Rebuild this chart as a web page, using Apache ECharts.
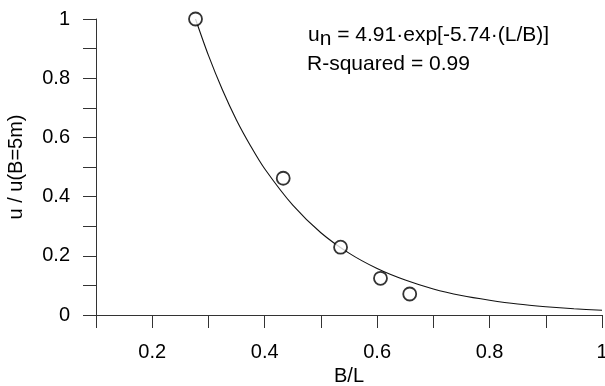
<!DOCTYPE html>
<html>
<head>
<meta charset="utf-8">
<script src="https://cdn.jsdelivr.net/npm/echarts@6/dist/echarts.min.js"></script>
<style>
  html, body { margin: 0; padding: 0; background: #fff; }
  #chart { width: 605px; height: 386px; }
</style>
</head>
<body>
<div id="chart"></div>
<script>
// measured points (B/L, u / u(B=5m))
var obsX = [0.277, 0.433, 0.535, 0.606, 0.658];
var obsY = [1.0, 0.462, 0.229, 0.124, 0.071];

// fitted curve
var fitX = [0.277, 0.3, 0.325, 0.35, 0.375, 0.4, 0.45, 0.5, 0.55, 0.6, 0.65, 0.7, 0.75, 0.8, 0.85, 0.9, 0.95, 1.0];
var fitY = [1.0, 0.877, 0.760, 0.658, 0.571, 0.494, 0.371, 0.278, 0.209, 0.157, 0.118, 0.088, 0.066, 0.050, 0.037, 0.028, 0.021, 0.016];

var xTickLabels = ['0.2', '0.4', '0.6', '0.8', '1'];
var yTickLabels = ['0', '0.2', '0.4', '0.6', '0.8', '1'];

var FONT = 'Liberation Sans, Arial, sans-serif';
var axisColor = '#333';

function fmt(labels) {
  return function (v) {
    var s = String(+v.toFixed(1));
    return labels.indexOf(s) >= 0 ? s : '';
  };
}

function pairs(xs, ys) {
  return xs.map(function (x, i) { return [x, ys[i]]; });
}

var chart = echarts.init(document.getElementById('chart'));

var axisCommon = {
  axisLine: { show: true, lineStyle: { color: axisColor, width: 1 } },
  axisTick: { show: true, inside: false, length: 13, lineStyle: { color: axisColor, width: 1 } },
  splitLine: { show: false },
  nameLocation: 'middle',
  nameTextStyle: { color: '#000', fontSize: 20, fontFamily: FONT }
};

chart.setOption({
  animation: false,
  backgroundColor: '#fff',
  grid: { left: 96, right: 3, top: 19, bottom: 71, containLabel: false, outerBoundsMode: 'none' },
  xAxis: Object.assign({}, axisCommon, {
    type: 'value',
    min: 0.1, max: 1, interval: 0.1,
    name: 'B/L',
    nameGap: 51,
    axisLabel: { color: '#000', fontSize: 20, fontFamily: FONT, margin: 27, formatter: fmt(xTickLabels) }
  }),
  yAxis: Object.assign({}, axisCommon, {
    type: 'value',
    min: 0, max: 1, interval: 0.1,
    name: 'u / u(B=5m)',
    nameGap: 70,
    axisLabel: { color: '#000', fontSize: 20, fontFamily: FONT, margin: 26, formatter: fmt(yTickLabels) }
  }),
  graphic: [
    { type: 'text', left: 308, top: 25, style: { text: 'u', fontSize: 21, fontFamily: FONT, fill: '#000' } },
    { type: 'text', left: 319.7, top: 29, style: { text: 'n', fontSize: 21, fontFamily: FONT, fill: '#000' } },
    { type: 'text', left: 331.4, top: 25, style: { text: ' = 4.91·exp[-5.74·(L/B)]', fontSize: 21, fontFamily: FONT, fill: '#000' } },
    { type: 'text', left: 307, top: 54, style: { text: 'R-squared = 0.99', fontSize: 21, fontFamily: FONT, fill: '#000' } }
  ],
  series: [
    {
      type: 'line',
      data: pairs(fitX, fitY),
      smooth: 0.3,
      showSymbol: false,
      symbol: 'none',
      lineStyle: { color: '#111', width: 1.1 },
      z: 2
    },
    {
      type: 'scatter',
      data: pairs(obsX, obsY),
      symbol: 'circle',
      symbolSize: 13,
      itemStyle: { color: '#fff', borderColor: '#000', borderWidth: 1.8 },
      z: 3
    }
  ]
});
</script>
</body>
</html>
